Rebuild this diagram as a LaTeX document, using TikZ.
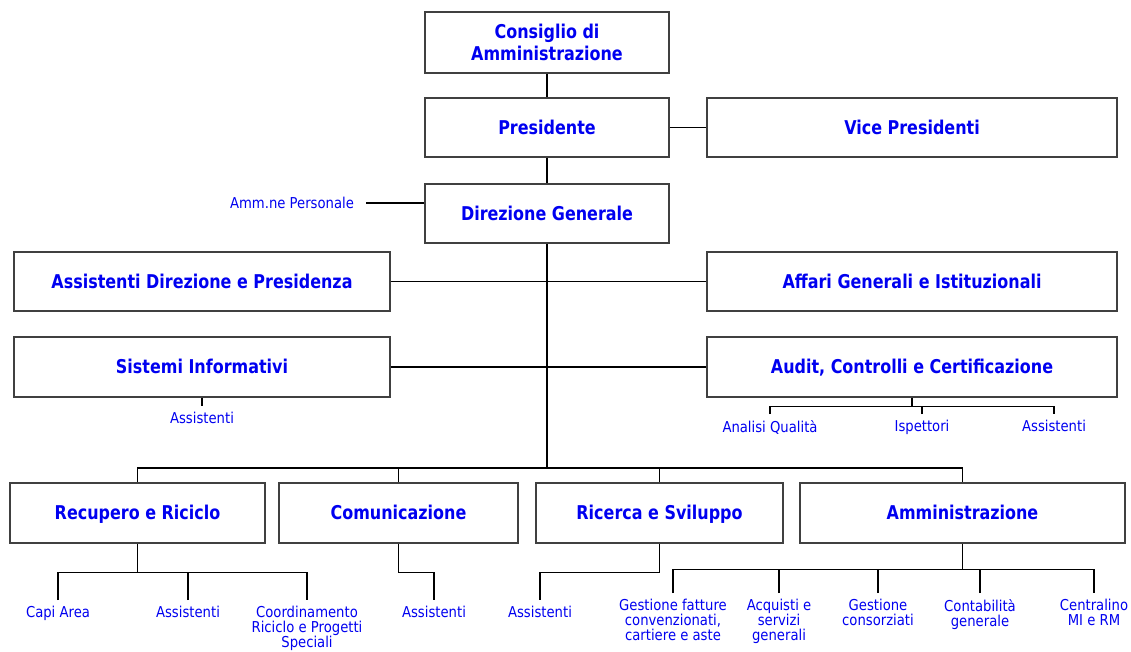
\documentclass[tikz,border=0pt]{standalone}
\usepackage{fontspec}
\setmainfont{DejaVu Sans}[UprightFeatures={FakeStretch=0.88},BoldFeatures={FakeStretch=0.84}]
\usepackage{xcolor}
\definecolor{orgblue}{HTML}{0000F0}
\definecolor{boxgrey}{HTML}{404040}

\tikzset{
  ufficio/.style 2 args={draw=boxgrey, line width=1.1pt, text=orgblue,
    font=\fontsize{14.25}{16.5}\selectfont\bfseries, align=center,
    minimum width=#1*0.75pt, minimum height=#2*0.75pt, inner sep=0pt},
  riga/.style={text height=13pt, text depth=3pt},
  voce/.style={text=orgblue, font=\fontsize{11.25}{11.25}\selectfont,
    align=center, anchor=north, inner sep=4.5pt},
  linea/.style={line width=0.9pt},
}

\begin{document}
\begin{tikzpicture}[x=0.75pt,y=-0.75pt]

\useasboundingbox (0,0) rectangle (1131,651);

% Vertice
\node[ufficio={244}{61}] (consiglio)
  at (547,42.5) {Consiglio di\\Amministrazione};

\node[ufficio={244}{59},riga] (presidente)
  at (547,127.5) {Presidente};

\node[ufficio={410}{59},riga] (vice)
  at (912,127.5) {Vice Presidenti};

\node[ufficio={244}{59},riga] (direzione)
  at (547,213.5) {Direzione Generale};

\node[voce,anchor=center] (personale)
  at (292,203) {Amm.ne Personale};

% Staff
\node[ufficio={376}{59},riga] (assdir)
  at (202,281.5) {Assistenti Direzione e Presidenza};

\node[ufficio={410}{59},riga] (affari)
  at (912,281.5) {Affari Generali e Istituzionali};

\node[ufficio={376}{60},riga] (sistemi)
  at (202,367) {Sistemi Informativi};

\node[ufficio={410}{60},riga] (audit)
  at (912,367) {Audit, Controlli e Certificazione};

\node[voce] (asssist) at (202,406) {Assistenti};

\node[voce] (analisi) at (770,414) {Analisi Qualità};
\node[voce] (ispettori) at (922,414) {Ispettori};
\node[voce] (assaudit) at (1054,414) {Assistenti};

% Aree operative
\node[ufficio={255}{60},riga] (recupero)
  at (137.5,513) {Recupero e Riciclo};

\node[ufficio={239}{60},riga] (comunic)
  at (398.5,513) {Comunicazione};

\node[ufficio={247}{60},riga] (ricerca)
  at (659.5,513) {Ricerca e Sviluppo};

\node[ufficio={325}{60},riga] (ammin)
  at (962.5,513) {Amministrazione};

\node[voce] (capi) at (58,600) {Capi Area};
\node[voce] (assrec) at (188,600) {Assistenti};
\node[voce] (coord) at (307,600) {Coordinamento\\Riciclo e Progetti\\Speciali};

\node[voce] (asscom) at (434,600) {Assistenti};
\node[voce] (assric) at (540,600) {Assistenti};

\node[voce] (fatture) at (673,593) {Gestione fatture\\convenzionati,\\cartiere e aste};
\node[voce] (acquisti) at (779,593) {Acquisti e\\servizi\\generali};
\node[voce] (consorz) at (878,593) {Gestione\\consorziati};
\node[voce] (contab) at (980,593) {Contabilità\\generale};
\node[voce] (centralino) at (1094,593) {Centralino\\MI e RM};

% Collegamenti in alto
\draw[linea]
  (consiglio) -- (presidente);

\draw[linea]
  (presidente) -- (vice);

\draw[linea]
  (presidente) -- (direzione);

\draw[linea]
  ([xshift=4.5pt]personale.east) -- (personale.east -| direzione.west);

% Linea principale
\coordinate (bus) at (547,468);

\draw[line width=1.5pt]
  (direzione.south) -- (bus);

\draw[linea]
  (assdir) -- (affari);

\draw[linea]
  (sistemi) -- (audit);

\draw[linea]
  (recupero.north) |- (bus) -| (ammin.north);

\foreach \n in {comunic,ricerca}
  \draw[linea] (\n.north) -- (\n.north |- bus);

% Sotto-voci
\draw[line width=1.3pt]
  (sistemi.south) -- (asssist.north);

\draw[linea]
  (audit.south) -- ++(0,9) coordinate (aubar);
\draw[linea]
  (analisi.north) |- (aubar) -| (assaudit.north);
\draw[linea]
  (ispettori.north) -- (ispettori.north |- aubar);

\draw[linea]
  (recupero.south) -- ++(0,29) coordinate (rbar);
\draw[linea]
  (capi.north) |- (rbar) -| (coord.north);
\draw[linea]
  (assrec.north) -- (assrec.north |- rbar);

\draw[linea]
  (comunic.south) -- ++(0,29) -| (asscom.north);

\draw[linea]
  (ricerca.south) -- ++(0,29) -| (assric.north);

\draw[linea]
  (ammin.south) -- ++(0,26) coordinate (ambar);
\draw[linea]
  (fatture.north) |- (ambar) -| (centralino.north);
\foreach \n in {acquisti,consorz,contab}
  \draw[linea] (\n.north) -- (\n.north |- ambar);

\end{tikzpicture}
\end{document}
